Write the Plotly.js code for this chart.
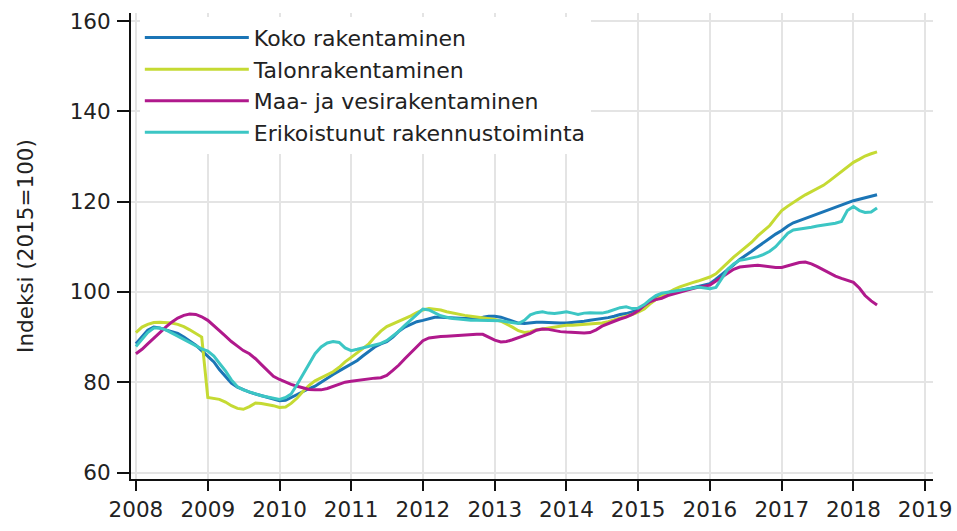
<!DOCTYPE html>
<html>
<head>
<meta charset="utf-8">
<script src="https://cdn.plot.ly/plotly-3.0.1.min.js"></script>
<style>
html,body{margin:0;padding:0;background:#fff;}
#chart{width:957px;height:531px;}
</style>
</head>
<body>
<div id="chart"></div>
<script>
// Monthly index values, 2008M01 .. 2018M05 (2015=100)
var startYear = 2008;
var startMonth = 1;
var seriesNames = ["Koko rakentaminen", "Talonrakentaminen", "Maa- ja vesirakentaminen", "Erikoistunut rakennustoiminta"];
var seriesColors = ["#1b75b6", "#c5da33", "#b0198c", "#3cc6c4"];

var koko = [
  88.5, 90.0, 91.5, 92.2, 92.0, 91.6, 91.2, 90.8, 90.0, 89.2, 88.2, 87.0,
  85.7, 84.5, 82.8, 81.2, 79.8, 78.9, 78.3, 77.8, 77.4, 77.0, 76.6, 76.2,
  75.9, 76.0, 76.6, 77.4, 78.0, 78.6, 79.1, 80.0, 81.0, 81.7, 82.5, 83.2,
  83.9, 84.8, 85.8, 86.8, 87.8, 88.5, 89.0, 90.0, 91.3, 92.2, 92.9, 93.4,
  93.7, 94.1, 94.4, 94.4, 94.3, 94.2, 94.1, 94.1, 94.1, 94.2, 94.4, 94.6,
  94.6, 94.4, 94.0, 93.6, 93.1, 93.0, 93.2, 93.3, 93.3, 93.2, 93.1, 93.1,
  93.1, 93.2, 93.3, 93.5, 93.7, 93.9, 94.0, 94.3, 94.6, 95.0, 95.2, 95.6,
  96.0, 96.4, 97.5, 98.6, 99.3, 99.6, 99.9, 100.2, 100.5, 100.8, 101.1, 101.4,
  101.8, 102.8, 103.8, 104.9, 106.0, 107.2, 108.0, 109.0, 110.0, 111.0, 111.9, 112.8,
  113.6, 114.6, 115.3, 115.8, 116.3, 116.7, 117.2, 117.7, 118.2, 118.7, 119.2, 119.7,
  120.2, 120.5, 120.8, 121.2, 121.5
];
var talon = [
  91.0, 92.2, 92.8, 93.2, 93.3, 93.2, 93.1, 92.8, 92.3, 91.6, 90.8, 90.0,
  76.6, 76.4, 76.2, 75.6, 74.8, 74.2, 74.0, 74.6, 75.4, 75.3, 75.1, 74.8,
  74.4, 74.5, 75.3, 76.5, 78.0, 79.3, 80.3, 81.0, 81.6, 82.3, 83.3, 84.5,
  85.5, 86.5, 87.5, 88.5, 90.0, 91.3, 92.3, 92.9, 93.4, 94.0, 94.7, 95.4,
  96.0, 96.3, 96.2, 96.0, 95.6, 95.3, 95.0, 94.8, 94.6, 94.4, 94.2, 94.0,
  93.9, 93.5, 92.9, 92.2, 91.4, 91.0, 91.2, 91.6, 91.8, 92.0, 92.3, 92.5,
  92.6, 92.6, 92.7, 92.8, 92.9, 93.0, 93.1, 93.4, 93.8, 94.2, 94.5, 95.0,
  95.5, 96.2, 97.3, 98.3, 99.0, 99.8, 100.5, 101.1, 101.6, 102.0, 102.4, 102.8,
  103.3, 104.0, 105.2, 106.6, 107.7, 108.8, 109.9, 111.0, 112.4, 113.6, 114.7, 116.4,
  118.0, 119.0, 119.9, 120.7, 121.5, 122.2, 123.0, 123.6, 124.6, 125.6, 126.6, 127.6,
  128.7, 129.4, 130.1, 130.6, 131.0
];
var maa = [
  86.3, 87.3, 88.5, 89.8, 91.0, 92.2, 93.3, 94.2, 94.8, 95.1, 95.0, 94.5,
  93.7, 92.6, 91.4, 90.2, 89.0, 88.0, 87.0, 86.3, 85.2, 83.9, 82.5, 81.3,
  80.6, 80.0, 79.5, 79.1, 78.7, 78.4, 78.3, 78.3, 78.6, 79.1, 79.6, 80.0,
  80.2, 80.4, 80.6, 80.8, 80.9, 81.0, 81.5, 82.6, 83.8, 85.2, 86.6, 88.0,
  89.2, 89.8, 90.0, 90.1, 90.2, 90.3, 90.4, 90.5, 90.6, 90.6, 90.6, 90.0,
  89.3, 88.9, 89.0, 89.4, 89.9, 90.3, 90.8, 91.5, 91.8, 91.7, 91.4, 91.2,
  91.1, 91.0, 90.9, 90.9, 91.0, 91.6, 92.4, 93.0, 93.5, 94.0, 94.4, 95.0,
  95.8, 97.0, 97.8, 98.3, 98.6, 99.2, 99.6, 100.0, 100.4, 100.7, 101.0, 101.3,
  101.5, 102.4, 103.3, 104.2, 105.0, 105.5, 105.7, 105.8, 105.9, 105.7, 105.5, 105.4,
  105.4, 105.8, 106.2, 106.5, 106.6, 106.2, 105.6, 104.9, 104.2, 103.5, 103.0, 102.5,
  102.1, 100.8, 99.2, 98.0, 97.1
];
var erik = [
  87.9, 89.5, 91.0, 92.0, 92.0, 91.6, 91.0, 90.2, 89.5, 88.8, 88.0, 87.4,
  86.9, 85.8, 84.2, 82.5, 80.5, 79.0, 78.3, 77.8, 77.4, 77.0, 76.7, 76.4,
  76.2, 76.6, 77.4, 79.5, 81.8, 84.2, 86.3, 87.8, 88.7, 89.0, 88.8, 87.6,
  87.0, 87.3, 87.6, 87.8, 88.2, 88.6, 89.2, 90.2, 91.3, 92.6, 93.8, 94.9,
  96.2, 96.0, 95.3, 94.7, 94.4, 94.1, 94.0, 93.8, 93.7, 93.7, 93.7, 93.7,
  93.7, 93.6, 93.4, 93.2, 93.0, 93.7, 94.9, 95.4, 95.6, 95.3, 95.2, 95.4,
  95.6, 95.3, 95.0, 95.3, 95.4, 95.3, 95.3, 95.6, 96.0, 96.5, 96.7, 96.3,
  96.4, 97.2, 98.2, 99.2, 99.7, 99.9, 100.2, 100.4, 100.6, 100.8, 101.1, 100.9,
  100.7, 101.0, 103.0, 105.0, 106.2, 107.0, 107.2, 107.5, 107.8, 108.3, 109.0, 110.0,
  111.4, 113.0, 113.7, 113.9, 114.0, 114.3, 114.6, 114.8, 115.0, 115.2, 115.6, 118.0,
  118.9, 118.0, 117.6, 117.7, 118.6
];
var yTicks = [60, 80, 100, 120, 140, 160];
var xTickYears = [2008, 2009, 2010, 2011, 2012, 2013, 2014, 2015, 2016, 2017, 2018, 2019];
var yTitle = "Indeksi (2015=100)";

function monthDates(n) {
  var out = [];
  for (var i = 0; i < n; i++) {
    var tot = (startMonth - 1) + i;
    var y = startYear + Math.floor(tot / 12);
    var m = (tot % 12) + 1;
    out.push(y + "-" + (m < 10 ? "0" + m : m) + "-01");
  }
  return out;
}

var allSeries = [koko, talon, maa, erik];
var traces = allSeries.map(function (vals, i) {
  return {
    type: "scatter",
    mode: "lines",
    name: seriesNames[i],
    x: monthDates(vals.length),
    y: vals,
    line: { color: seriesColors[i], width: 3 },
    hoverinfo: "x+y+name"
  };
});

var fam = "DejaVu Sans, Verdana, sans-serif";
var font = { family: fam, size: 21.5, color: "#222" };
var legendFont = { family: fam, size: 22, color: "#222" };

var layout = {
  width: 957,
  height: 531,
  paper_bgcolor: "#fff",
  plot_bgcolor: "#fff",
  font: font,
  margin: { l: 131, r: 24, t: 13, b: 52, pad: 0 },
  showlegend: true,
  legend: {
    x: 0.011, y: 0.992, xanchor: "left", yanchor: "top",
    bgcolor: "#fff", borderwidth: 0,
    font: legendFont,
    itemwidth: 104,
    tracegroupgap: 0
  },
  xaxis: {
    type: "date",
    range: ["2007-12-07", "2019-02-10"],
    tickvals: xTickYears.map(function (y) { return y + "-01-01"; }),
    ticktext: xTickYears.map(String),
    showgrid: true, gridcolor: "#e4e4e4", gridwidth: 2,
    showline: true, linecolor: "#111", linewidth: 2,
    ticks: "outside", ticklen: 10, tickwidth: 2, tickcolor: "#111",
    zeroline: false,
    tickfont: font
  },
  yaxis: {
    range: [58.56, 161.77],
    tickvals: yTicks,
    ticktext: yTicks.map(String),
    showgrid: true, gridcolor: "#e4e4e4", gridwidth: 2,
    showline: true, linecolor: "#111", linewidth: 2,
    ticks: "outside", ticklen: 12, tickwidth: 2, tickcolor: "#111",
    ticklabelstandoff: 2,
    zeroline: false,
    tickfont: font,
    title: { text: yTitle, font: font, standoff: 30 }
  }
};

Plotly.newPlot("chart", traces, layout, { displayModeBar: false, staticPlot: true });
</script>
</body>
</html>
